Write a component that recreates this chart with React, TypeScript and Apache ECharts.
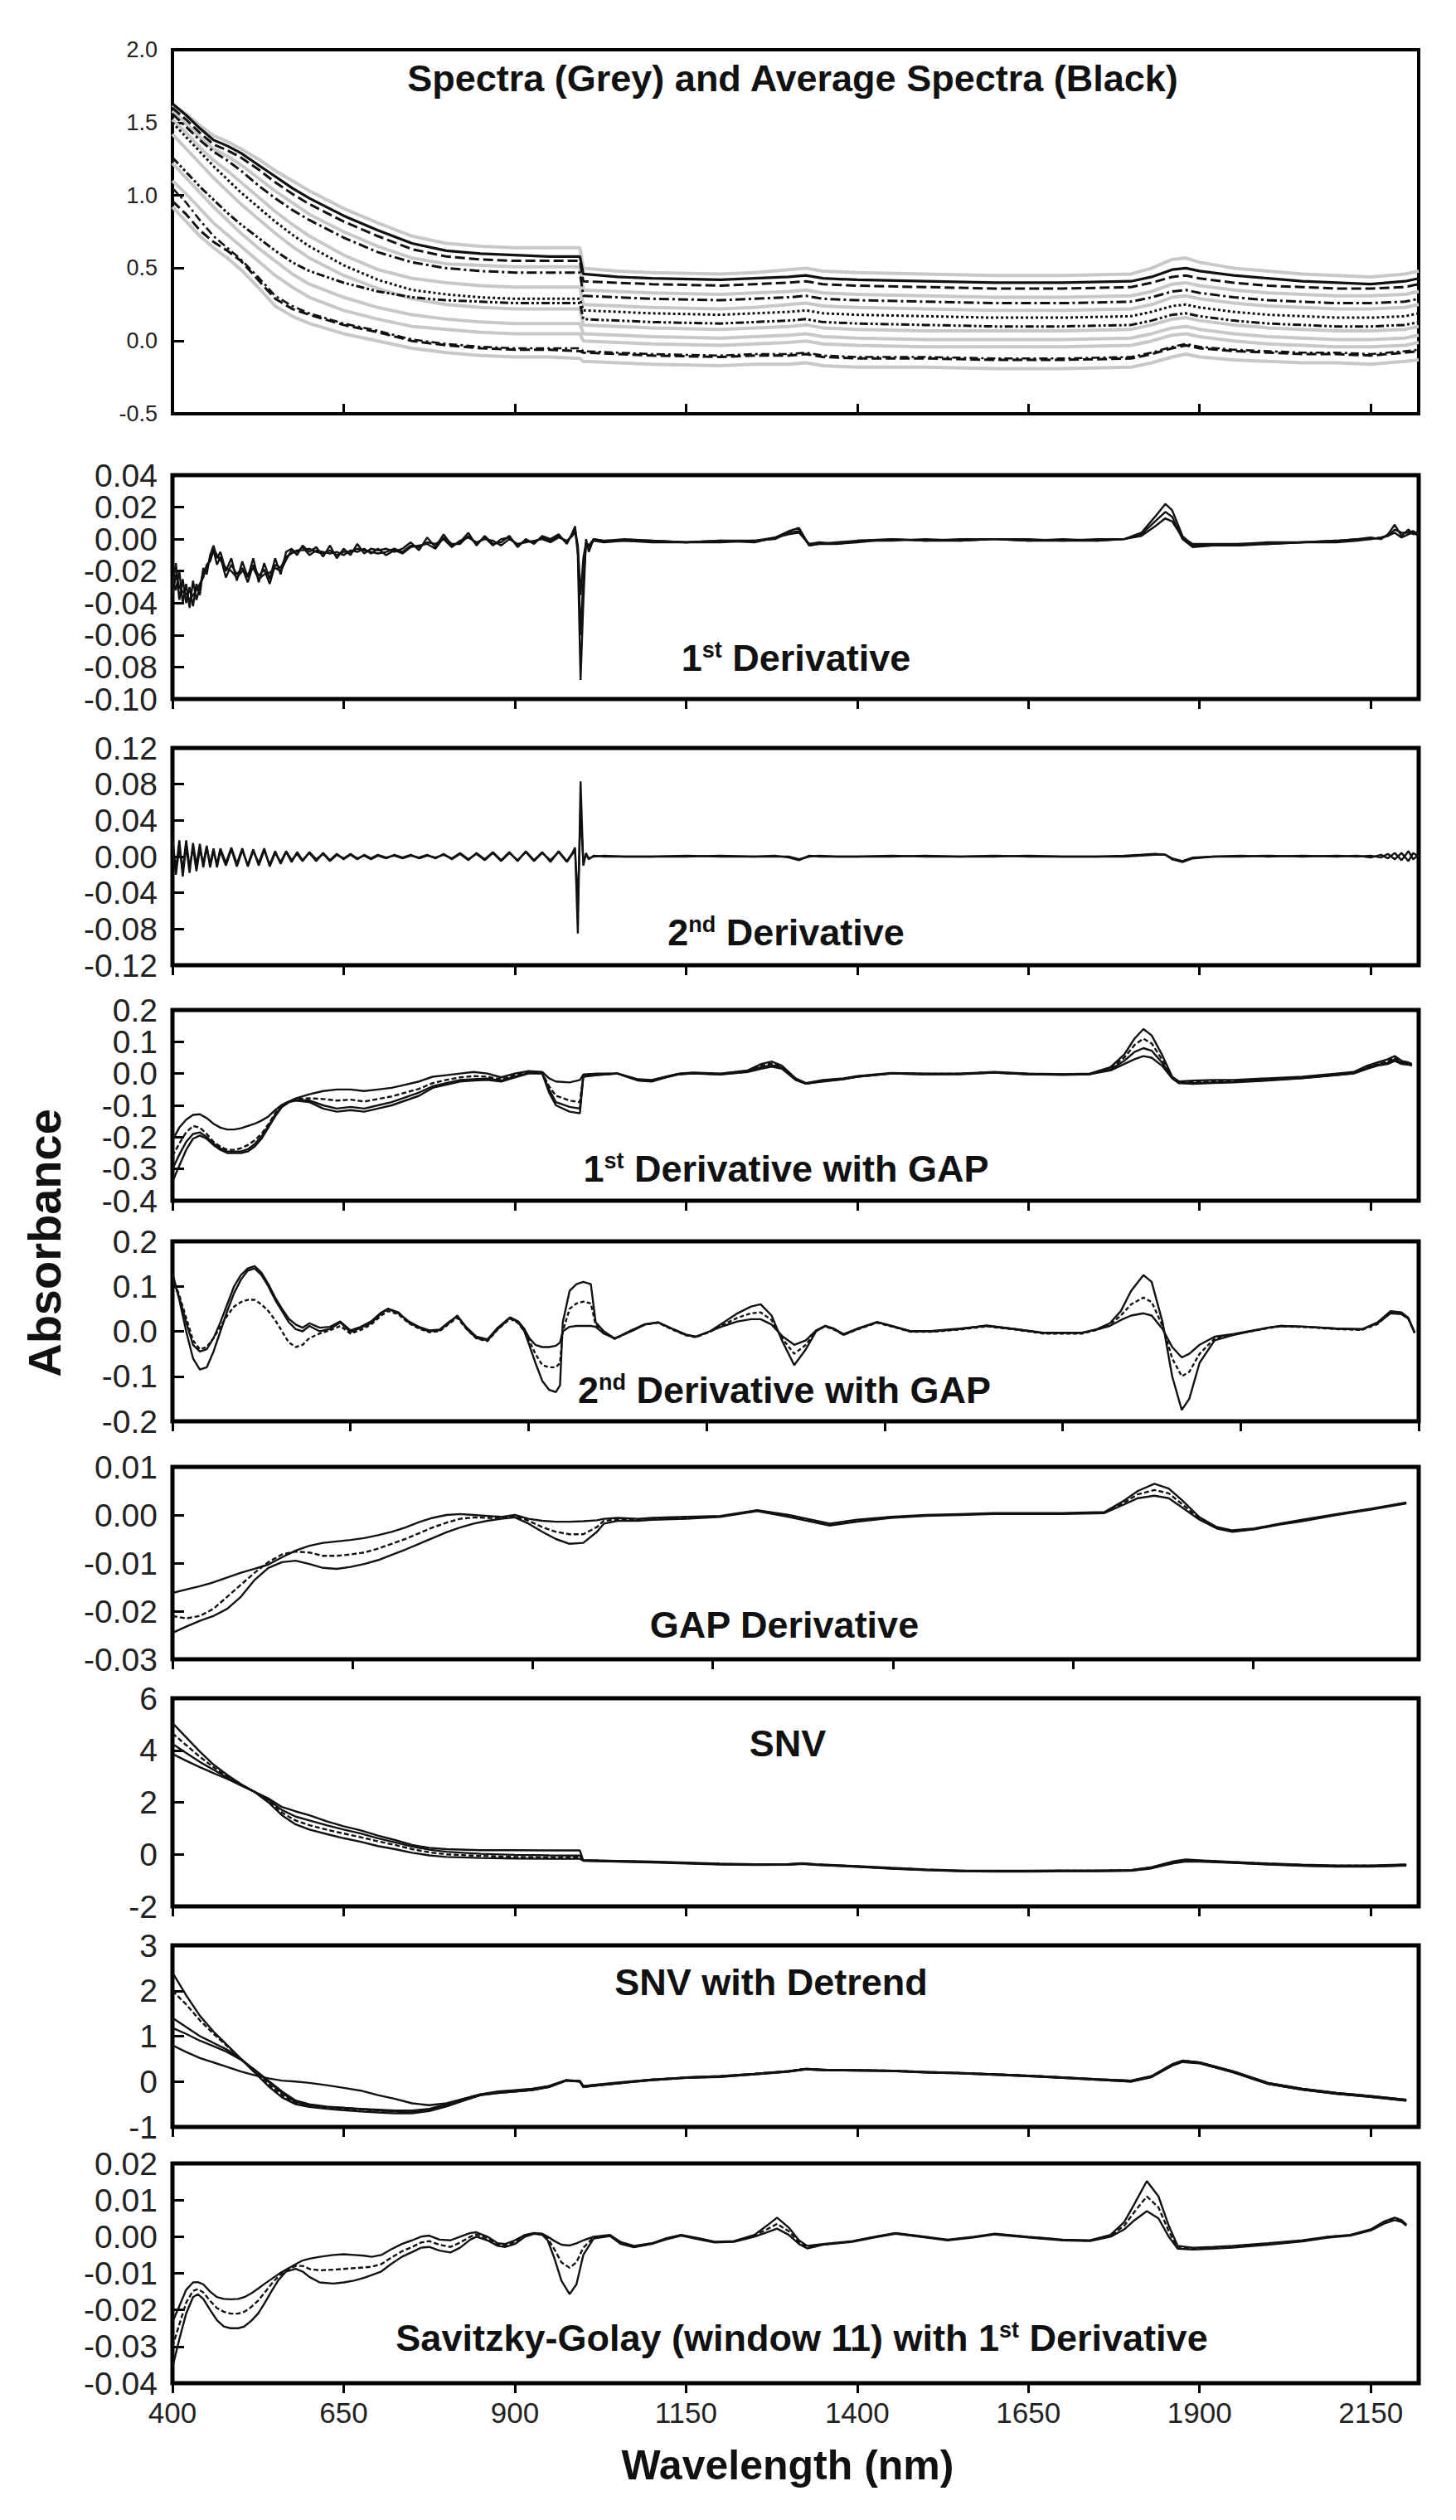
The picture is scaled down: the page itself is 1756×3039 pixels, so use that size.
import React, { useEffect, useRef } from "react";
import * as echarts from "echarts";

const FONT = '"Liberation Sans", Arial, Helvetica, sans-serif';

// ---------------- axis ticks ----------------
const X_TICKS = [400, 650, 900, 1150, 1400, 1650, 1900, 2150];
const P1_YTICKS = [-0.5, 0, 0.5, 1.0, 1.5, 2.0];
const P2_YTICKS = [-0.1, -0.08, -0.06, -0.04, -0.02, 0, 0.02, 0.04];
const P3_YTICKS = [-0.12, -0.08, -0.04, 0, 0.04, 0.08, 0.12];
const P4_YTICKS = [-0.4, -0.3, -0.2, -0.1, 0, 0.1, 0.2];
const P5_YTICKS = [-0.2, -0.1, 0, 0.1, 0.2];
const P6_YTICKS = [-0.03, -0.02, -0.01, 0, 0.01];
const P7_YTICKS = [-2, 0, 2, 4, 6];
const P8_YTICKS = [-1, 0, 1, 2, 3];
const P9_YTICKS = [-0.04, -0.03, -0.02, -0.01, 0, 0.01, 0.02];

// ---------------- Panel 1 : spectra ----------------
const X1 = [400, 420, 440, 460, 480, 500, 525, 550, 575, 600, 650, 700, 750, 800, 850, 900, 950, 995, 1000, 1050, 1100, 1200, 1250, 1300, 1325, 1350, 1400, 1500, 1600, 1700, 1800, 1830, 1860, 1880, 1900, 1950, 2000, 2050, 2100, 2150, 2200, 2220];
const P1_AVG_1 = [1.63, 1.55, 1.46, 1.38, 1.34, 1.29, 1.21, 1.13, 1.05, 0.98, 0.86, 0.76, 0.67, 0.62, 0.60, 0.59, 0.58, 0.58, 0.46, 0.44, 0.43, 0.42, 0.43, 0.44, 0.45, 0.43, 0.42, 0.41, 0.40, 0.40, 0.41, 0.44, 0.49, 0.50, 0.48, 0.45, 0.43, 0.41, 0.40, 0.39, 0.41, 0.43];
const P1_AVG_2 = [1.60, 1.52, 1.43, 1.35, 1.31, 1.26, 1.18, 1.09, 1.01, 0.94, 0.82, 0.72, 0.63, 0.58, 0.56, 0.55, 0.55, 0.55, 0.41, 0.40, 0.39, 0.38, 0.39, 0.40, 0.41, 0.39, 0.38, 0.37, 0.36, 0.36, 0.37, 0.40, 0.44, 0.45, 0.43, 0.40, 0.38, 0.37, 0.36, 0.36, 0.37, 0.39];
const P1_AVG_3 = [1.56, 1.47, 1.38, 1.30, 1.24, 1.17, 1.07, 0.98, 0.90, 0.83, 0.71, 0.61, 0.54, 0.50, 0.48, 0.47, 0.47, 0.47, 0.31, 0.30, 0.29, 0.28, 0.29, 0.30, 0.31, 0.29, 0.28, 0.27, 0.26, 0.26, 0.27, 0.30, 0.34, 0.35, 0.33, 0.30, 0.28, 0.27, 0.26, 0.26, 0.27, 0.29];
const P1_AVG_4 = [1.50, 1.40, 1.30, 1.20, 1.11, 1.02, 0.92, 0.82, 0.73, 0.65, 0.52, 0.42, 0.35, 0.32, 0.30, 0.29, 0.29, 0.29, 0.21, 0.20, 0.19, 0.18, 0.19, 0.20, 0.21, 0.19, 0.18, 0.17, 0.16, 0.16, 0.17, 0.20, 0.24, 0.25, 0.23, 0.20, 0.18, 0.17, 0.16, 0.16, 0.17, 0.19];
const P1_AVG_5 = [1.26, 1.16, 1.06, 0.97, 0.88, 0.80, 0.71, 0.62, 0.54, 0.48, 0.40, 0.34, 0.30, 0.28, 0.27, 0.26, 0.26, 0.26, 0.15, 0.14, 0.13, 0.12, 0.13, 0.14, 0.15, 0.13, 0.12, 0.11, 0.10, 0.10, 0.11, 0.14, 0.18, 0.19, 0.17, 0.14, 0.12, 0.11, 0.10, 0.10, 0.11, 0.13];
const P1_AVG_6 = [0.96, 0.87, 0.76, 0.68, 0.62, 0.55, 0.42, 0.29, 0.22, 0.18, 0.11, 0.06, 0.00, -0.03, -0.05, -0.06, -0.06, -0.07, -0.08, -0.09, -0.10, -0.11, -0.10, -0.10, -0.09, -0.11, -0.12, -0.12, -0.13, -0.13, -0.12, -0.09, -0.05, -0.03, -0.05, -0.07, -0.08, -0.09, -0.09, -0.10, -0.08, -0.07];
const P1_AVG_7 = [1.05, 0.95, 0.83, 0.72, 0.64, 0.56, 0.44, 0.31, 0.24, 0.19, 0.12, 0.07, 0.01, -0.02, -0.04, -0.05, -0.05, -0.05, -0.07, -0.08, -0.09, -0.10, -0.09, -0.09, -0.08, -0.10, -0.11, -0.11, -0.12, -0.12, -0.11, -0.08, -0.04, -0.02, -0.04, -0.06, -0.07, -0.08, -0.08, -0.09, -0.07, -0.06];
const P1_GREY_1 = [1.62, 1.56, 1.48, 1.41, 1.37, 1.32, 1.25, 1.17, 1.10, 1.03, 0.91, 0.81, 0.72, 0.67, 0.65, 0.64, 0.64, 0.64, 0.50, 0.48, 0.47, 0.46, 0.47, 0.49, 0.50, 0.48, 0.47, 0.46, 0.45, 0.45, 0.46, 0.50, 0.56, 0.57, 0.54, 0.50, 0.48, 0.46, 0.45, 0.44, 0.46, 0.48];
const P1_GREY_2 = [1.58, 1.49, 1.40, 1.32, 1.27, 1.21, 1.12, 1.03, 0.95, 0.87, 0.75, 0.65, 0.57, 0.53, 0.52, 0.51, 0.51, 0.51, 0.35, 0.34, 0.33, 0.32, 0.33, 0.34, 0.35, 0.33, 0.32, 0.31, 0.30, 0.30, 0.31, 0.34, 0.39, 0.40, 0.38, 0.35, 0.33, 0.32, 0.31, 0.31, 0.32, 0.34];
const P1_GREY_3 = [1.52, 1.43, 1.33, 1.24, 1.17, 1.09, 0.99, 0.89, 0.80, 0.72, 0.59, 0.49, 0.43, 0.40, 0.38, 0.37, 0.37, 0.37, 0.25, 0.24, 0.23, 0.22, 0.23, 0.25, 0.26, 0.24, 0.23, 0.22, 0.21, 0.21, 0.22, 0.25, 0.30, 0.31, 0.29, 0.26, 0.24, 0.23, 0.22, 0.22, 0.23, 0.25];
const P1_GREY_4 = [1.42, 1.32, 1.22, 1.12, 1.03, 0.94, 0.84, 0.74, 0.65, 0.57, 0.45, 0.36, 0.29, 0.25, 0.23, 0.22, 0.22, 0.22, 0.11, 0.10, 0.09, 0.08, 0.09, 0.10, 0.11, 0.09, 0.08, 0.07, 0.07, 0.07, 0.08, 0.11, 0.15, 0.16, 0.14, 0.11, 0.09, 0.08, 0.07, 0.07, 0.08, 0.10];
const P1_GREY_5 = [1.22, 1.12, 1.02, 0.92, 0.83, 0.74, 0.64, 0.55, 0.46, 0.39, 0.30, 0.23, 0.18, 0.15, 0.13, 0.12, 0.12, 0.12, 0.05, 0.04, 0.03, 0.02, 0.03, 0.04, 0.05, 0.03, 0.02, 0.01, 0.01, 0.01, 0.02, 0.05, 0.09, 0.10, 0.08, 0.05, 0.03, 0.02, 0.01, 0.01, 0.02, 0.04];
const P1_GREY_6 = [1.10, 1.01, 0.91, 0.81, 0.73, 0.65, 0.55, 0.45, 0.37, 0.30, 0.21, 0.15, 0.10, 0.08, 0.06, 0.05, 0.05, 0.05, 0.00, -0.01, -0.02, -0.03, -0.02, -0.01, 0.00, -0.02, -0.03, -0.04, -0.04, -0.04, -0.03, 0.00, 0.04, 0.05, 0.03, 0.00, -0.02, -0.03, -0.04, -0.04, -0.03, -0.01];
const P1_GREY_7 = [0.92, 0.82, 0.72, 0.64, 0.57, 0.49, 0.37, 0.24, 0.17, 0.12, 0.05, 0.00, -0.05, -0.08, -0.10, -0.11, -0.11, -0.12, -0.14, -0.15, -0.16, -0.17, -0.16, -0.16, -0.15, -0.17, -0.18, -0.18, -0.19, -0.19, -0.18, -0.15, -0.11, -0.09, -0.11, -0.13, -0.14, -0.15, -0.15, -0.16, -0.14, -0.13];

// ---------------- Panels 2 & 3 : 1st / 2nd derivative ----------------
const X23 = [400, 405, 410, 415, 420, 425, 430, 435, 440, 445,
  450, 455, 460, 465, 470, 478, 486, 494, 502, 510,
  518, 526, 534, 542, 550, 558, 566, 574, 582, 590,
  600, 610, 620, 630, 640, 650, 660, 670, 680, 690,
  700, 712, 724, 736, 748, 760, 772, 784, 796, 808,
  820, 832, 844, 856, 868, 880, 892, 904, 916, 928,
  940, 952, 964, 976, 984, 988, 992, 996, 1000, 1004,
  1008, 1015, 1030, 1060, 1100, 1150, 1200, 1250, 1280, 1300,
  1315, 1330, 1345, 1370, 1400, 1450, 1500, 1550, 1600, 1650,
  1700, 1750, 1790, 1815, 1835, 1850, 1860, 1875, 1890, 1920,
  1960, 2000, 2050, 2100, 2130, 2150, 2165, 2175, 2185, 2195,
  2205, 2212, 2220];
const P2_A = [-0.030, -0.015, -0.038, -0.025, -0.040, -0.030, -0.042, -0.028, -0.035, -0.018,
  -0.022, -0.010, -0.004, -0.012, -0.008, -0.020, -0.012, -0.026, -0.014, -0.024,
  -0.012, -0.027, -0.015, -0.025, -0.012, -0.022, -0.008, -0.006, -0.010, -0.004,
  -0.008, -0.005, -0.011, -0.004, -0.012, -0.006, -0.010, -0.003, -0.009, -0.006,
  -0.007, -0.006, -0.008, -0.006, -0.002, -0.007, 0.001, -0.005, 0.003, -0.004,
  -0.002, 0.004, -0.004, 0.002, -0.003, -0.002, 0.002, -0.005, 0.000, -0.003,
  0.002, 0.000, 0.003, -0.003, 0.004, 0.008, -0.010, -0.088, -0.040, 0.000,
  -0.008, 0.000, -0.001, 0.000, -0.001, -0.002, -0.001, -0.001, 0.001, 0.005,
  0.007, -0.004, -0.003, -0.003, -0.001, 0.000, -0.001, 0.000, 0.000, -0.001,
  -0.001, -0.001, 0.000, 0.004, 0.014, 0.022, 0.018, 0.002, -0.004, -0.004,
  -0.003, -0.003, -0.002, -0.001, 0.000, 0.001, 0.000, 0.003, 0.009, 0.002,
  0.006, 0.003, 0.005];
const P2_B = [-0.036, -0.022, -0.030, -0.033, -0.034, -0.038, -0.035, -0.032, -0.028, -0.024,
  -0.016, -0.014, -0.007, -0.016, -0.011, -0.024, -0.016, -0.022, -0.018, -0.027,
  -0.016, -0.023, -0.019, -0.028, -0.016, -0.018, -0.011, -0.009, -0.007, -0.007,
  -0.006, -0.008, -0.009, -0.007, -0.010, -0.008, -0.008, -0.006, -0.007, -0.008,
  -0.009, -0.008, -0.006, -0.008, -0.004, -0.005, -0.002, -0.003, 0.000, -0.005,
  -0.001, 0.001, -0.002, 0.000, -0.001, -0.004, 0.000, -0.003, -0.002, -0.001,
  0.000, -0.002, 0.001, -0.001, 0.002, 0.005, -0.006, -0.060, -0.025, -0.003,
  -0.005, -0.001, -0.002, -0.001, -0.002, -0.002, -0.002, -0.001, 0.000, 0.004,
  0.005, -0.004, -0.003, -0.002, -0.001, -0.001, 0.000, -0.001, 0.000, 0.000,
  -0.001, 0.000, 0.000, 0.003, 0.011, 0.017, 0.014, 0.000, -0.005, -0.004,
  -0.004, -0.003, -0.002, -0.002, -0.001, 0.000, 0.001, 0.002, 0.006, 0.004,
  0.004, 0.005, 0.003];
const P2_C = [-0.025, -0.032, -0.020, -0.040, -0.028, -0.043, -0.026, -0.038, -0.030, -0.020,
  -0.019, -0.012, -0.006, -0.010, -0.013, -0.018, -0.020, -0.024, -0.020, -0.022,
  -0.018, -0.025, -0.022, -0.021, -0.018, -0.020, -0.013, -0.007, -0.008, -0.005,
  -0.010, -0.007, -0.008, -0.009, -0.008, -0.010, -0.007, -0.008, -0.006, -0.009,
  -0.006, -0.010, -0.007, -0.009, -0.005, -0.004, -0.003, -0.006, 0.001, -0.003,
  -0.003, 0.002, -0.003, 0.001, -0.004, 0.000, 0.001, -0.004, -0.001, -0.002,
  0.001, -0.001, 0.002, -0.002, 0.003, 0.006, -0.004, -0.035, -0.012, -0.002,
  -0.004, 0.000, -0.001, -0.001, -0.001, -0.002, -0.001, -0.002, 0.001, 0.003,
  0.004, -0.003, -0.002, -0.003, -0.002, 0.000, -0.001, -0.001, 0.000, -0.001,
  0.000, -0.001, 0.000, 0.002, 0.008, 0.013, 0.011, 0.001, -0.003, -0.003,
  -0.003, -0.002, -0.002, -0.001, 0.000, 0.000, 0.001, 0.002, 0.004, 0.001,
  0.003, 0.004, 0.002];
const P3_A = [0.020, -0.015, 0.018, -0.022, 0.012, -0.018, 0.015, -0.010, 0.014, -0.012,
  0.010, -0.008, 0.009, -0.012, 0.006, -0.010, 0.008, -0.011, 0.007, -0.009,
  0.008, -0.010, 0.007, -0.009, 0.006, -0.008, 0.005, -0.006, 0.005, -0.004,
  0.004, -0.005, 0.004, -0.004, 0.003, -0.003, 0.002, -0.003, 0.002, -0.002,
  0.002, -0.001, 0.001, -0.002, 0.001, -0.001, 0.002, -0.002, 0.003, -0.003,
  0.003, -0.004, 0.004, -0.003, 0.005, -0.004, 0.005, -0.005, 0.006, -0.004,
  0.005, -0.006, 0.006, -0.005, 0.004, 0.010, -0.085, 0.083, -0.010, 0.004,
  -0.003, 0.001, 0.000, 0.000, 0.000, 0.001, 0.000, 0.000, 0.001, -0.001,
  -0.004, 0.001, 0.000, 0.000, 0.000, 0.001, 0.000, 0.000, 0.001, 0.000,
  0.000, 0.000, 0.001, 0.002, 0.003, 0.002, -0.003, -0.006, -0.002, 0.000,
  0.001, 0.000, 0.001, 0.000, 0.001, -0.001, 0.002, -0.002, 0.004, -0.004,
  0.006, -0.003, 0.002];
const P3_B = [0.012, -0.020, 0.010, -0.015, 0.018, -0.012, 0.010, -0.016, 0.008, -0.008,
  0.012, -0.012, 0.006, -0.008, 0.009, -0.007, 0.010, -0.008, 0.009, -0.011,
  0.006, -0.007, 0.009, -0.011, 0.004, -0.006, 0.006, -0.004, 0.003, -0.005,
  0.005, -0.003, 0.003, -0.005, 0.002, -0.002, 0.003, -0.002, 0.001, -0.003,
  0.001, -0.002, 0.002, -0.001, 0.002, -0.002, 0.001, -0.001, 0.002, -0.002,
  0.004, -0.003, 0.003, -0.004, 0.004, -0.005, 0.004, -0.004, 0.005, -0.005,
  0.004, -0.004, 0.005, -0.006, 0.003, 0.006, -0.050, 0.050, -0.006, 0.002,
  -0.002, 0.000, 0.001, 0.000, 0.000, 0.000, 0.001, 0.000, 0.000, 0.000,
  -0.003, 0.000, 0.001, 0.000, 0.000, 0.000, 0.001, 0.000, 0.000, 0.001,
  0.000, 0.000, 0.000, 0.001, 0.002, 0.002, -0.002, -0.005, -0.001, 0.000,
  0.000, 0.001, 0.000, 0.001, 0.000, 0.001, -0.001, 0.003, -0.003, 0.004,
  -0.005, 0.004, 0.000];

// ---------------- Panel 4 : 1st derivative with gap ----------------
const X4 = [400, 410, 420, 430, 440, 450, 460, 470, 480, 490,
  500, 510, 520, 530, 540, 550, 560, 570, 580, 600,
  620, 640, 660, 680, 700, 720, 740, 760, 780, 800,
  820, 840, 860, 880, 900, 920, 940, 950, 960, 980,
  995, 1000, 1020, 1050, 1080, 1100, 1120, 1140, 1160, 1200,
  1240, 1260, 1275, 1290, 1310, 1325, 1350, 1380, 1400, 1450,
  1500, 1550, 1600, 1650, 1700, 1740, 1770, 1790, 1805, 1818,
  1830, 1845, 1860, 1870, 1890, 1920, 1950, 2000, 2050, 2100,
  2125, 2145, 2160, 2175, 2185, 2195, 2205, 2210];
const P4_A = [-0.21, -0.17, -0.145, -0.13, -0.128, -0.14, -0.158, -0.17, -0.176, -0.176,
  -0.172, -0.165, -0.158, -0.148, -0.135, -0.115, -0.098, -0.088, -0.078, -0.065,
  -0.055, -0.05, -0.05, -0.055, -0.05, -0.045, -0.035, -0.025, -0.01, -0.005,
  0.0, 0.005, 0.0, -0.012, 0.0, 0.008, 0.005, -0.015, -0.025, -0.028,
  -0.02, -0.003, 0.0, 0.0, -0.018, -0.02, -0.01, 0.0, 0.003, 0.0,
  0.01, 0.03, 0.038, 0.025, -0.015, -0.03, -0.02, -0.015, -0.008, 0.002,
  0.0, 0.0, 0.005, 0.0, -0.002, 0.0, 0.02, 0.06, 0.11, 0.14,
  0.12, 0.06, -0.01, -0.025, -0.022, -0.02, -0.02, -0.015, -0.01, 0.0,
  0.005, 0.025, 0.035, 0.045, 0.055, 0.04, 0.035, 0.03];
const P4_B = [-0.26, -0.22, -0.185, -0.165, -0.17, -0.19, -0.215, -0.23, -0.24, -0.24,
  -0.235, -0.225, -0.21, -0.19, -0.16, -0.125, -0.1, -0.088, -0.08, -0.078,
  -0.08, -0.085, -0.082, -0.088, -0.08, -0.072, -0.06, -0.048, -0.03, -0.02,
  -0.012, -0.008, -0.01, -0.018, -0.005, 0.004, 0.002, -0.04, -0.07, -0.085,
  -0.09, -0.006, -0.002, 0.0, -0.02, -0.022, -0.011, -0.001, 0.002, -0.001,
  0.008, 0.025, 0.032, 0.02, -0.018, -0.031, -0.022, -0.016, -0.009, 0.001,
  -0.001, -0.001, 0.004, -0.001, -0.003, -0.001, 0.016, 0.05, 0.09, 0.11,
  0.095, 0.045, -0.012, -0.028, -0.027, -0.025, -0.024, -0.018, -0.012, -0.003,
  0.003, 0.02, 0.03, 0.038, 0.05, 0.036, 0.032, 0.028];
const P4_C = [-0.30, -0.255, -0.215, -0.19, -0.185, -0.2, -0.22, -0.235, -0.245, -0.245,
  -0.245, -0.238, -0.222, -0.198, -0.165, -0.13, -0.102, -0.09, -0.083, -0.085,
  -0.1, -0.11, -0.105, -0.11, -0.1, -0.09, -0.075, -0.06, -0.04, -0.03,
  -0.02, -0.018, -0.016, -0.022, -0.01, 0.002, 0.001, -0.05, -0.09, -0.105,
  -0.11, -0.008, -0.004, 0.0, -0.021, -0.024, -0.012, -0.002, 0.001, -0.002,
  0.006, 0.02, 0.027, 0.018, -0.019, -0.032, -0.024, -0.017, -0.01, 0.0,
  -0.002, -0.001, 0.003, -0.002, -0.003, -0.002, 0.013, 0.04, 0.068, 0.08,
  0.072, 0.035, -0.014, -0.03, -0.03, -0.028, -0.026, -0.02, -0.014, -0.004,
  0.001, 0.018, 0.028, 0.034, 0.045, 0.033, 0.03, 0.026];
const P4_D = [-0.34, -0.29, -0.24, -0.205, -0.195, -0.205, -0.225, -0.24, -0.25, -0.25,
  -0.25, -0.245, -0.23, -0.205, -0.17, -0.135, -0.105, -0.09, -0.085, -0.09,
  -0.11, -0.12, -0.115, -0.12, -0.11, -0.1, -0.085, -0.07, -0.045, -0.035,
  -0.025, -0.022, -0.02, -0.025, -0.012, 0.0, 0.0, -0.06, -0.1, -0.12,
  -0.125, -0.01, -0.005, 0.0, -0.022, -0.025, -0.012, -0.002, 0.0, -0.003,
  0.005, 0.015, 0.022, 0.015, -0.02, -0.032, -0.025, -0.018, -0.01, 0.0,
  -0.002, -0.002, 0.003, -0.002, -0.004, -0.002, 0.01, 0.03, 0.045, 0.055,
  0.05, 0.025, -0.015, -0.03, -0.032, -0.03, -0.028, -0.022, -0.015, -0.005,
  0.0, 0.015, 0.025, 0.03, 0.04, 0.03, 0.028, 0.025];

// ---------------- Panel 5 : 2nd derivative with gap ----------------
const X5 = [400, 410, 420, 430, 440, 450, 460, 470, 480, 490,
  500, 510, 520, 530, 540, 550, 560, 570, 580, 590,
  600, 615, 630, 645, 660, 675, 690, 705, 715, 730,
  745, 760, 775, 790, 805, 816, 830, 844, 860, 875,
  893, 905, 914, 921, 930, 940, 950, 960, 966, 970,
  980, 990, 1000, 1011, 1018, 1030, 1046, 1070, 1090, 1109,
  1130, 1150, 1164, 1185, 1205, 1225, 1245, 1259, 1275, 1290,
  1308, 1325, 1340, 1353, 1366, 1380, 1400, 1429, 1450, 1478,
  1510, 1550, 1589, 1630, 1672, 1700, 1728, 1750, 1769, 1785,
  1800, 1818, 1830, 1846, 1860, 1874, 1885, 1900, 1922, 1950,
  2000, 2019, 2060, 2100, 2137, 2160, 2179, 2195, 2205, 2214];
const P5_A = [0.13, 0.07, 0.0, -0.06, -0.085, -0.08, -0.045, 0.0, 0.045, 0.085,
  0.115, 0.135, 0.14, 0.125, 0.1, 0.07, 0.045, 0.02, 0.005, 0.0,
  0.012, 0.0, 0.005, 0.02, -0.002, 0.008, 0.018, 0.04, 0.05, 0.042,
  0.02, 0.008, 0.0, 0.002, 0.02, 0.035, 0.005, -0.015, -0.02, 0.005,
  0.03, 0.02, 0.0, -0.03, -0.07, -0.11, -0.13, -0.135, -0.12, 0.02,
  0.09, 0.105, 0.11, 0.105, 0.02, 0.0, -0.016, 0.0, 0.015, 0.02,
  0.005, -0.008, -0.012, 0.0, 0.02, 0.04, 0.055, 0.06, 0.035, -0.02,
  -0.075, -0.04, 0.0, 0.012, 0.005, -0.008, 0.005, 0.021, 0.012, 0.0,
  0.0, 0.005, 0.013, 0.005, -0.004, -0.004, -0.004, 0.005, 0.018, 0.045,
  0.09, 0.125, 0.11, 0.02, -0.1, -0.175, -0.15, -0.07, -0.02, -0.008,
  0.008, 0.012, 0.01, 0.006, 0.004, 0.02, 0.045, 0.042, 0.03, -0.004];
const P5_B = [0.12, 0.075, 0.02, -0.03, -0.045, -0.04, -0.015, 0.02, 0.06, 0.1,
  0.125, 0.14, 0.145, 0.13, 0.105, 0.075, 0.05, 0.028, 0.015, 0.008,
  0.018, 0.008, 0.01, 0.022, 0.002, 0.01, 0.022, 0.042, 0.05, 0.04,
  0.022, 0.01, 0.002, 0.004, 0.022, 0.033, 0.008, -0.012, -0.018, 0.008,
  0.031, 0.022, 0.005, -0.015, -0.03, -0.035, -0.035, -0.032, -0.025, 0.0,
  0.01, 0.012, 0.012, 0.012, 0.01, -0.005, -0.016, 0.002, 0.016, 0.02,
  0.006, -0.007, -0.012, 0.0, 0.012, 0.022, 0.027, 0.027, 0.015, -0.01,
  -0.03, -0.02, 0.002, 0.012, 0.006, -0.006, 0.006, 0.02, 0.012, 0.0,
  0.001, 0.006, 0.012, 0.005, -0.003, -0.003, -0.003, 0.004, 0.012, 0.025,
  0.035, 0.04, 0.035, 0.005, -0.035, -0.058, -0.05, -0.03, -0.012, -0.006,
  0.008, 0.012, 0.01, 0.006, 0.005, 0.018, 0.04, 0.038, 0.028, -0.002];
const P5_C = [0.12, 0.08, 0.03, -0.02, -0.04, -0.035, -0.015, 0.01, 0.035, 0.055,
  0.065, 0.07, 0.07, 0.06, 0.045, 0.025, 0.0, -0.025, -0.035, -0.03,
  -0.015, -0.005, 0.002, 0.012, -0.005, 0.003, 0.015, 0.035, 0.045, 0.038,
  0.018, 0.006, -0.002, 0.0, 0.018, 0.03, 0.004, -0.016, -0.022, 0.004,
  0.028, 0.018, 0.0, -0.02, -0.05, -0.075, -0.08, -0.08, -0.07, 0.0,
  0.05, 0.062, 0.066, 0.062, 0.015, -0.002, -0.017, 0.001, 0.015, 0.019,
  0.004, -0.009, -0.013, -0.001, 0.015, 0.03, 0.04, 0.042, 0.025, -0.015,
  -0.05, -0.03, 0.001, 0.011, 0.004, -0.008, 0.004, 0.019, 0.011, -0.001,
  -0.001, 0.004, 0.011, 0.004, -0.005, -0.005, -0.005, 0.003, 0.015, 0.035,
  0.06, 0.075, 0.065, 0.012, -0.06, -0.1, -0.09, -0.05, -0.016, -0.007,
  0.007, 0.011, 0.009, 0.005, 0.003, 0.016, 0.042, 0.04, 0.027, -0.003];

// ---------------- Panel 6 : gap derivative ----------------
const X6 = [400, 420, 440, 460, 480, 500, 520, 540, 560, 580,
  600, 620, 640, 660, 680, 700, 720, 740, 760, 780,
  800, 820, 840, 860, 880, 900, 920, 940, 960, 980,
  1000, 1020, 1030, 1050, 1080, 1100, 1150, 1200, 1254, 1300,
  1360, 1400, 1449, 1500, 1550, 1600, 1650, 1700, 1761, 1790,
  1810, 1834, 1855, 1875, 1900, 1925, 1948, 1980, 2017, 2050,
  2100, 2150, 2202];
const P6_A = [-0.0162, -0.0155, -0.0148, -0.014, -0.013, -0.012, -0.0112, -0.0103, -0.0088, -0.0074,
  -0.0064, -0.0058, -0.0055, -0.0052, -0.0048, -0.0042, -0.0035, -0.0026, -0.0015, -0.0006,
  0.0, 0.0002, 0.0, -0.0002, -0.0004, 0.0, -0.0008, -0.0012, -0.0014, -0.0014,
  -0.0013, -0.0011, -0.0008, -0.0006, -0.0008, -0.0006, -0.0004, -0.0002, 0.001, 0.0,
  -0.0018, -0.001, -0.0004, 0.0, 0.0002, 0.0004, 0.0004, 0.0004, 0.0006, 0.003,
  0.005, 0.0065, 0.0055, 0.003, -0.0005, -0.0025, -0.0032, -0.0028, -0.0018, -0.001,
  0.0002, 0.0013, 0.0026];
const P6_B = [-0.021, -0.0215, -0.021, -0.0195, -0.017, -0.0145, -0.012, -0.0098, -0.0082, -0.0076,
  -0.0078, -0.0085, -0.0085, -0.0082, -0.0078, -0.007, -0.006, -0.005, -0.0038, -0.0026,
  -0.0016, -0.0008, -0.0005, -0.0006, -0.0006, -0.0002, -0.0012, -0.0025, -0.0035, -0.004,
  -0.004, -0.0025, -0.0012, -0.0009, -0.001, -0.0008, -0.0006, -0.0003, 0.0009, -0.0002,
  -0.002, -0.0012, -0.0005, -0.0001, 0.0001, 0.0003, 0.0003, 0.0003, 0.0005, 0.0026,
  0.0043, 0.0052, 0.0045, 0.0022, -0.0008, -0.0026, -0.0034, -0.0029, -0.0019, -0.0012,
  0.0001, 0.0012, 0.0025];
const P6_C = [-0.0245, -0.0232, -0.022, -0.021, -0.0195, -0.017, -0.0135, -0.011, -0.0098, -0.0095,
  -0.0102, -0.011, -0.0112, -0.0108, -0.0102, -0.0094, -0.0083, -0.0072, -0.006, -0.0048,
  -0.0036, -0.0026, -0.0018, -0.0012, -0.0008, -0.0005, -0.0018, -0.0035, -0.005, -0.006,
  -0.0058, -0.0035, -0.0018, -0.0012, -0.0012, -0.001, -0.0008, -0.0004, 0.0008, -0.0004,
  -0.0022, -0.0014, -0.0006, -0.0002, 0.0, 0.0002, 0.0002, 0.0002, 0.0004, 0.0022,
  0.0035, 0.004, 0.0035, 0.0015, -0.001, -0.0028, -0.0035, -0.003, -0.002, -0.0013,
  0.0, 0.0011, 0.0024];

// ---------------- Panel 7 : SNV ----------------
const X7 = [400, 420, 440, 460, 480, 500, 520, 540, 560, 580,
  600, 625, 650, 675, 700, 725, 750, 775, 800, 850,
  900, 950, 995, 1000, 1050, 1100, 1150, 1200, 1250, 1300,
  1320, 1340, 1400, 1450, 1500, 1550, 1600, 1650, 1700, 1750,
  1800, 1830, 1860, 1880, 1900, 1950, 2000, 2050, 2100, 2150, 2202];
const P7_A = [5.05, 4.5, 3.95, 3.45, 3.05, 2.7, 2.4, 2.0, 1.5, 1.15,
  0.95, 0.78, 0.62, 0.48, 0.32, 0.2, 0.06, -0.04, -0.1, -0.14,
  -0.16, -0.17, -0.17, -0.24, -0.27, -0.3, -0.34, -0.38, -0.4, -0.39,
  -0.36, -0.4, -0.47, -0.54, -0.6, -0.64, -0.65, -0.65, -0.64, -0.64,
  -0.62, -0.52, -0.32, -0.24, -0.26, -0.32, -0.38, -0.43, -0.46, -0.46, -0.42];
const P7_B = [4.65, 4.2, 3.75, 3.35, 3.0, 2.68, 2.4, 2.05, 1.6, 1.3,
  1.12, 0.95, 0.8, 0.66, 0.5, 0.36, 0.2, 0.08, 0.0, -0.06,
  -0.1, -0.12, -0.12, -0.23, -0.26, -0.29, -0.33, -0.37, -0.39, -0.38,
  -0.35, -0.39, -0.46, -0.53, -0.59, -0.63, -0.64, -0.64, -0.63, -0.63,
  -0.61, -0.5, -0.3, -0.22, -0.24, -0.3, -0.36, -0.41, -0.44, -0.44, -0.4];
const P7_C = [4.25, 3.9, 3.55, 3.25, 2.95, 2.67, 2.4, 2.1, 1.7, 1.45,
  1.3, 1.12, 0.95, 0.8, 0.62, 0.46, 0.3, 0.18, 0.1, 0.02,
  -0.02, -0.04, -0.05, -0.22, -0.25, -0.28, -0.32, -0.36, -0.38, -0.37,
  -0.34, -0.38, -0.45, -0.52, -0.58, -0.62, -0.63, -0.63, -0.62, -0.62,
  -0.6, -0.49, -0.28, -0.2, -0.23, -0.29, -0.35, -0.4, -0.43, -0.43, -0.39];
const P7_D = [3.86, 3.6, 3.35, 3.12, 2.9, 2.65, 2.4, 2.15, 1.82, 1.65,
  1.5, 1.27, 1.08, 0.92, 0.72, 0.55, 0.36, 0.25, 0.2, 0.16,
  0.16, 0.15, 0.15, -0.25, -0.28, -0.31, -0.35, -0.39, -0.41, -0.4,
  -0.37, -0.41, -0.48, -0.55, -0.61, -0.65, -0.66, -0.66, -0.65, -0.65,
  -0.63, -0.54, -0.35, -0.27, -0.28, -0.33, -0.39, -0.44, -0.47, -0.47, -0.43];

// ---------------- Panel 8 : SNV with detrend ----------------
const X8 = [400, 420, 440, 460, 480, 500, 520, 540, 560, 580,
  600, 625, 650, 675, 700, 725, 750, 775, 800, 825,
  850, 875, 900, 925, 950, 975, 995, 1000, 1025, 1050,
  1100, 1150, 1200, 1250, 1300, 1325, 1350, 1400, 1450, 1500,
  1550, 1600, 1650, 1700, 1750, 1800, 1830, 1860, 1875, 1900,
  1950, 2000, 2050, 2100, 2150, 2202];
const P8_A = [2.4, 1.9, 1.45, 1.1, 0.8, 0.5, 0.2, -0.1, -0.35, -0.5,
  -0.56, -0.6, -0.63, -0.66, -0.68, -0.7, -0.7, -0.65, -0.55, -0.42,
  -0.3, -0.25, -0.22, -0.19, -0.12, 0.02, 0.0, -0.12, -0.08, -0.04,
  0.03, 0.08, 0.1, 0.16, 0.22, 0.27, 0.25, 0.24, 0.23, 0.2,
  0.18, 0.15, 0.12, 0.08, 0.04, 0.0, 0.1, 0.35, 0.43, 0.4,
  0.2, -0.05, -0.18, -0.27, -0.34, -0.42];
const P8_B = [2.0, 1.7, 1.35, 1.05, 0.78, 0.5, 0.22, -0.05, -0.3, -0.48,
  -0.55, -0.58, -0.6, -0.62, -0.64, -0.66, -0.66, -0.62, -0.53, -0.4,
  -0.29, -0.24, -0.21, -0.18, -0.11, 0.03, 0.01, -0.11, -0.07, -0.03,
  0.04, 0.09, 0.11, 0.17, 0.23, 0.28, 0.26, 0.25, 0.24, 0.21,
  0.19, 0.16, 0.13, 0.09, 0.05, 0.01, 0.11, 0.37, 0.45, 0.42,
  0.21, -0.04, -0.17, -0.26, -0.33, -0.41];
const P8_C = [1.4, 1.2, 1.0, 0.85, 0.7, 0.5, 0.25, 0.0, -0.25, -0.45,
  -0.52, -0.56, -0.58, -0.6, -0.62, -0.64, -0.64, -0.6, -0.5, -0.38,
  -0.28, -0.23, -0.2, -0.17, -0.1, 0.03, 0.01, -0.1, -0.07, -0.03,
  0.04, 0.09, 0.12, 0.17, 0.23, 0.28, 0.26, 0.25, 0.24, 0.21,
  0.19, 0.16, 0.13, 0.09, 0.05, 0.02, 0.12, 0.38, 0.46, 0.42,
  0.22, -0.03, -0.16, -0.25, -0.32, -0.4];
const P8_D = [1.18, 1.05, 0.9, 0.78, 0.65, 0.48, 0.26, 0.02, -0.22, -0.42,
  -0.5, -0.55, -0.58, -0.61, -0.63, -0.66, -0.68, -0.63, -0.53, -0.41,
  -0.3, -0.25, -0.22, -0.19, -0.12, 0.02, 0.0, -0.12, -0.08, -0.04,
  0.03, 0.08, 0.11, 0.16, 0.22, 0.27, 0.25, 0.24, 0.23, 0.2,
  0.18, 0.15, 0.12, 0.08, 0.04, 0.0, 0.1, 0.36, 0.44, 0.41,
  0.2, -0.05, -0.18, -0.27, -0.34, -0.42];
const P8_E = [0.8, 0.65, 0.52, 0.42, 0.32, 0.22, 0.14, 0.07, 0.02, 0.0,
  -0.03, -0.08, -0.14, -0.2, -0.3, -0.38, -0.48, -0.52, -0.48, -0.38,
  -0.28, -0.22, -0.19, -0.16, -0.1, 0.03, 0.01, -0.1, -0.06, -0.02,
  0.04, 0.09, 0.12, 0.17, 0.23, 0.28, 0.26, 0.25, 0.24, 0.21,
  0.19, 0.16, 0.13, 0.09, 0.05, 0.02, 0.12, 0.38, 0.46, 0.42,
  0.22, -0.03, -0.16, -0.25, -0.32, -0.4];

// ---------------- Panel 9 : Savitzky-Golay 1st derivative ----------------
const X9 = [400, 410, 420, 430, 437, 445, 455, 465, 475, 485,
  496, 505, 515, 525, 535, 545, 555, 566, 580, 590,
  600, 615, 635, 650, 665, 680, 691, 705, 719, 735,
  750, 763, 775, 790, 806, 820, 835, 844, 860, 875,
  886, 900, 915, 928, 940, 948, 958, 968, 980, 990,
  1000, 1015, 1039, 1055, 1074, 1100, 1120, 1143, 1170, 1192,
  1220, 1250, 1268, 1283, 1300, 1315, 1327, 1350, 1393, 1425,
  1456, 1500, 1532, 1570, 1601, 1650, 1700, 1740, 1770, 1790,
  1805, 1823, 1840, 1855, 1868, 1890, 1920, 1948, 2000, 2050,
  2087, 2120, 2150, 2170, 2185, 2195, 2202];
const P9_A = [-0.0233, -0.019, -0.0145, -0.0125, -0.0124, -0.013, -0.015, -0.0165, -0.017, -0.0171,
  -0.017, -0.0165, -0.0155, -0.0142, -0.0128, -0.0115, -0.0102, -0.009, -0.0075, -0.0065,
  -0.006, -0.0055, -0.005, -0.0048, -0.005, -0.0052, -0.0055, -0.005, -0.0035, -0.002,
  -0.001, 0.0, 0.0003, -0.0008, -0.001, 0.0, 0.001, 0.0012, 0.0, -0.0018,
  -0.002, -0.001, 0.0005, 0.001, 0.0008, 0.0, -0.0012, -0.0022, -0.0024, -0.0018,
  -0.001, 0.0, 0.0005, -0.0015, -0.0025, -0.0018, -0.0005, 0.0005, -0.0005, -0.0014,
  -0.0012, 0.0005, 0.003, 0.0052, 0.0025, -0.001, -0.0025, -0.002, -0.0012, 0.0,
  0.001, 0.0, -0.0008, 0.0, 0.0008, 0.0, -0.0008, -0.001, 0.0005, 0.004,
  0.009, 0.0152, 0.011, 0.003, -0.0025, -0.003, -0.0028, -0.0025, -0.0018, -0.001,
  0.0, 0.0005, 0.002, 0.0042, 0.0052, 0.0045, 0.0033];
const P9_B = [-0.03, -0.024, -0.018, -0.0148, -0.0143, -0.0152, -0.0175, -0.0195, -0.0205, -0.021,
  -0.021, -0.0205, -0.0192, -0.0175, -0.0152, -0.0128, -0.0108, -0.0092, -0.008, -0.008,
  -0.0088, -0.0092, -0.009, -0.0088, -0.0086, -0.0084, -0.0082, -0.0075, -0.0058, -0.004,
  -0.0028, -0.0016, -0.0012, -0.0022, -0.0028, -0.0016, 0.0, 0.0006, -0.0005, -0.0022,
  -0.0024, -0.0015, 0.0002, 0.0009, 0.0006, -0.0005, -0.0035, -0.007, -0.0085, -0.007,
  -0.003, -0.0002, 0.0003, -0.0018, -0.0027, -0.0019, -0.0006, 0.0004, -0.0006, -0.0015,
  -0.0013, 0.0003, 0.002, 0.0035, 0.0015, -0.0015, -0.0028, -0.0021, -0.0013, -0.0001,
  0.0009, -0.0001, -0.0009, -0.0001, 0.0007, -0.0001, -0.0009, -0.0011, 0.0003, 0.003,
  0.0068, 0.011, 0.008, 0.0015, -0.003, -0.0032, -0.003, -0.0028, -0.002, -0.0012,
  -0.0001, 0.0004, 0.0018, 0.0039, 0.0048, 0.0042, 0.0031];
const P9_C = [-0.0357, -0.028, -0.021, -0.0165, -0.0157, -0.017, -0.02, -0.0228, -0.0245, -0.025,
  -0.025, -0.0245, -0.023, -0.021, -0.018, -0.0148, -0.0118, -0.0095, -0.0088, -0.0095,
  -0.011, -0.0125, -0.0128, -0.0125, -0.012, -0.0112, -0.0105, -0.0095, -0.0075, -0.0055,
  -0.0042, -0.003, -0.0028, -0.0038, -0.0043, -0.003, -0.0008, 0.0, -0.001, -0.0025,
  -0.0028, -0.002, 0.0, 0.0008, 0.0005, -0.001, -0.006, -0.012, -0.0157, -0.013,
  -0.005, -0.0005, 0.0002, -0.002, -0.0029, -0.002, -0.0008, 0.0003, -0.0008, -0.0016,
  -0.0014, 0.0, 0.0012, 0.0022, 0.0005, -0.002, -0.0032, -0.0022, -0.0014, -0.0002,
  0.0008, -0.0002, -0.001, -0.0002, 0.0006, -0.0002, -0.001, -0.0012, 0.0, 0.002,
  0.0045, 0.007, 0.005, 0.0, -0.0033, -0.0035, -0.0033, -0.003, -0.0022, -0.0013,
  -0.0003, 0.0003, 0.0017, 0.0036, 0.0045, 0.004, 0.003];

// ---------------- layout / styles (not data) ----------------
const PLOT_LEFT = 208;
const PLOT_WIDTH = 1503;
const BLACK = "#111111";
const GREY = "#c8c8c8";

type Line = { xs: number[]; ys: number[]; color?: string; width?: number; dash?: any };
type Panel = {
  top: number; height: number; yTicks: number[]; dec: number;
  fontSize: number; tickInside?: boolean; border: number; tickAxisMax?: number; labels?: boolean;
  lines: Line[];
};

const blk = (xs: number[], ys: number[], dash: any = "solid", width = 2.4): Line => ({ xs, ys, color: BLACK, width, dash });

const PANELS: Panel[] = [
  {
    top: 60, height: 439, yTicks: P1_YTICKS, dec: 1, fontSize: 27, tickInside: true, border: 4,
    lines: [
      ...[P1_GREY_1, P1_GREY_2, P1_GREY_3, P1_GREY_4, P1_GREY_5, P1_GREY_6, P1_GREY_7].map((ys) => ({ xs: X1, ys, color: GREY, width: 4 })),
      blk(X1, P1_AVG_1, "solid", 3.2),
      blk(X1, P1_AVG_2, [12, 5], 3),
      blk(X1, P1_AVG_3, [12, 4, 3, 4], 3),
      blk(X1, P1_AVG_4, [3, 3], 3),
      blk(X1, P1_AVG_5, [10, 3, 3, 3, 3, 3], 3),
      blk(X1, P1_AVG_6, [12, 5], 3),
      blk(X1, P1_AVG_7, [10, 4, 3, 4], 2.6),
    ],
  },
  { top: 573, height: 270, yTicks: P2_YTICKS, dec: 2, fontSize: 39, border: 5,
    lines: [blk(X23, P2_B), blk(X23, P2_C), blk(X23, P2_A)] },
  { top: 902, height: 262, yTicks: P3_YTICKS, dec: 2, fontSize: 39, border: 5,
    lines: [blk(X23, P3_B), blk(X23, P3_A)] },
  { top: 1218, height: 230, yTicks: P4_YTICKS, dec: 1, fontSize: 39, border: 5,
    lines: [blk(X4, P4_A), blk(X4, P4_B, [6, 3]), blk(X4, P4_C), blk(X4, P4_D)] },
  { top: 1497, height: 217, yTicks: P5_YTICKS, dec: 1, fontSize: 39, border: 5, tickAxisMax: 2150,
    lines: [blk(X5, P5_B), blk(X5, P5_C, [5, 3]), blk(X5, P5_A)] },
  { top: 1769, height: 232, yTicks: P6_YTICKS, dec: 2, fontSize: 39, border: 5, tickAxisMax: 2130,
    lines: [blk(X6, P6_A), blk(X6, P6_B, [6, 3]), blk(X6, P6_C)] },
  { top: 2048, height: 251, yTicks: P7_YTICKS, dec: 0, fontSize: 39, border: 5,
    lines: [blk(X7, P7_A), blk(X7, P7_B, [6, 3]), blk(X7, P7_C), blk(X7, P7_D)] },
  { top: 2346, height: 219, yTicks: P8_YTICKS, dec: 0, fontSize: 39, border: 5,
    lines: [blk(X8, P8_A), blk(X8, P8_B, [6, 3]), blk(X8, P8_C), blk(X8, P8_D), blk(X8, P8_E)] },
  { top: 2609, height: 265, yTicks: P9_YTICKS, dec: 2, fontSize: 39, border: 5, labels: true,
    lines: [blk(X9, P9_A), blk(X9, P9_B, [6, 3]), blk(X9, P9_C)] },
];

const TITLES: { text: string; x: number; y: number }[] = [
  { text: "{b|Spectra (Grey) and Average Spectra (Black)}", x: 956, y: 94 },
  { text: "{b|1}{s|st}{b| Derivative}", x: 960, y: 793 },
  { text: "{b|2}{s|nd}{b| Derivative}", x: 948, y: 1124 },
  { text: "{b|1}{s|st}{b| Derivative with GAP}", x: 948, y: 1409 },
  { text: "{b|2}{s|nd}{b| Derivative with GAP}", x: 946, y: 1676 },
  { text: "{b|GAP Derivative}", x: 946, y: 1959 },
  { text: "{b|SNV}", x: 950, y: 2102 },
  { text: "{b|SNV with Detrend}", x: 930, y: 2390 },
  { text: "{b|Savitzky-Golay (window 11) with 1}{s|st}{b| Derivative}", x: 967, y: 2819 },
];

const pts = (xs: number[], ys: number[]) => {
  const out: number[][] = [];
  for (let i = 0; i < xs.length && i < ys.length; i++) out.push([xs[i], ys[i]]);
  return out;
};

function buildOption() {
  const grid: any[] = [];
  const xAxis: any[] = [];
  const yAxis: any[] = [];
  const series: any[] = [];

  PANELS.forEach((p, gi) => {
    grid.push({
      left: PLOT_LEFT, width: PLOT_WIDTH, top: p.top, height: p.height,
      show: true, borderColor: "#000", borderWidth: p.border, backgroundColor: "transparent",
      containLabel: false, outerBoundsMode: "none",
    });
    const dataAxisIndex = xAxis.length;
    const hasTickAxis = p.tickAxisMax !== undefined;
    xAxis.push({
      type: "value", gridIndex: gi, min: 400, max: 2220, position: "bottom",
      axisLine: { show: false, onZero: false },
      splitLine: { show: false },
      axisTick: {
        show: !hasTickAxis, inside: !!p.tickInside, length: 12, customValues: X_TICKS,
        lineStyle: { color: "#000", width: 3 },
      },
      axisLabel: {
        show: !!p.labels, customValues: X_TICKS, fontFamily: FONT, fontSize: 35, color: "#222", margin: 18,
        hideOverlap: false,
        formatter: (v: number) => String(Math.round(v)),
      },
    });
    if (hasTickAxis) {
      xAxis.push({
        type: "value", gridIndex: gi, min: 400, max: p.tickAxisMax, position: "bottom",
        axisLine: { show: false, onZero: false }, splitLine: { show: false }, axisLabel: { show: false },
        axisTick: { show: true, inside: false, length: 12, customValues: X_TICKS, lineStyle: { color: "#000", width: 3 } },
      });
    }
    const yMin = p.yTicks[0];
    const yMax = p.yTicks[p.yTicks.length - 1];
    const fmt = (v: number) => (Math.abs(v) < 1e-9 ? 0 : v).toFixed(p.dec);
    const labelBase = {
      fontFamily: FONT, fontSize: p.fontSize, color: "#222", margin: 18,
      showMinLabel: true, showMaxLabel: true, hideOverlap: false, formatter: fmt,
    };
    // two label layers (alternate ticks) so that ECharts never drops a crowded label
    const evenTicks = p.yTicks.filter((_, i) => i % 2 === 0);
    const oddTicks = p.yTicks.filter((_, i) => i % 2 === 1);
    const dataYIndex = yAxis.length;
    yAxis.push({
      type: "value", gridIndex: gi, min: yMin, max: yMax, position: "left",
      axisLine: { show: false, onZero: false }, splitLine: { show: false },
      axisTick: { show: true, inside: true, length: 14, customValues: p.yTicks, lineStyle: { color: "#000", width: 3 } },
      axisLabel: { ...labelBase, customValues: evenTicks },
    });
    yAxis.push({
      type: "value", gridIndex: gi, min: yMin, max: yMax, position: "left", offset: 0,
      axisLine: { show: false, onZero: false }, splitLine: { show: false },
      axisTick: { show: false },
      axisLabel: { ...labelBase, customValues: oddTicks },
    });
    p.lines.forEach((l) => {
      series.push({
        type: "line", xAxisIndex: dataAxisIndex, yAxisIndex: dataYIndex, data: pts(l.xs, l.ys),
        showSymbol: false, symbol: "none", silent: true, animation: false,
        lineStyle: { color: l.color, width: l.width, type: l.dash },
        emphasis: { disabled: true },
      });
    });
  });

  const rich = {
    b: { fontSize: 45, fontWeight: "bold", fontFamily: FONT, fill: "#111", color: "#111" },
    s: { fontSize: 27, fontWeight: "bold", fontFamily: FONT, fill: "#111", color: "#111", verticalAlign: "top" },
  };

  const graphic: any[] = TITLES.map((t) => ({
    type: "text", x: t.x, y: t.y, silent: true,
    style: { text: t.text, rich, align: "center", verticalAlign: "middle", fill: "#111" },
  }));
  graphic.push({
    type: "text", x: 53, y: 1499, rotation: Math.PI / 2, silent: true,
    style: { text: "Absorbance", align: "center", verticalAlign: "middle", fill: "#111", font: `bold 56px ${FONT}` },
  });
  graphic.push({
    type: "text", x: 950, y: 2973, silent: true,
    style: { text: "Wavelength (nm)", align: "center", verticalAlign: "middle", fill: "#111", font: `bold 50px ${FONT}` },
  });

  return { animation: false, backgroundColor: "#ffffff", grid, xAxis, yAxis, series, graphic };
}

export default function App() {
  const ref = useRef<HTMLDivElement>(null);
  useEffect(() => {
    if (!ref.current) return;
    const chart = echarts.init(ref.current, undefined, { renderer: "svg" });
    chart.setOption(buildOption() as any);
    return () => chart.dispose();
  }, []);
  return (
    <div
      ref={ref}
      style={{ position: "absolute", left: 0, top: 0, width: 1756, height: 3039, background: "#fff" }}
    />
  );
}
